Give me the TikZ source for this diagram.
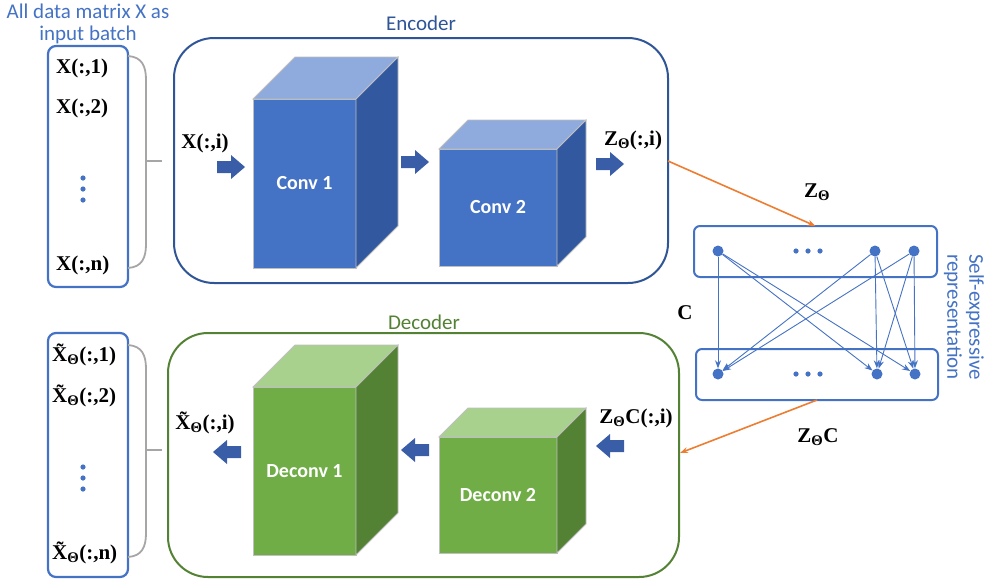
\documentclass[tikz,border=0pt]{standalone}
\usepackage{fontspec}
\setmainfont{Liberation Serif}
\newfontfamily\calibri{Carlito}
\usetikzlibrary{arrows.meta}
\definecolor{mainblue}{HTML}{4472C4}
\definecolor{darkblue}{HTML}{2F5597}
\definecolor{arrowblue}{HTML}{3A5DA8}
\definecolor{topblue}{HTML}{8FAADC}
\definecolor{sideblue}{HTML}{3259A0}
\definecolor{frontgreen}{HTML}{70AD47}
\definecolor{topgreen}{HTML}{A9D18E}
\definecolor{sidegreen}{HTML}{548235}
\definecolor{darkgreen}{HTML}{548235}
\definecolor{bracketgray}{HTML}{A6A6A6}
\definecolor{linkorange}{HTML}{ED7D31}
\definecolor{cubeedge}{HTML}{BFBFBF}

\tikzset{
    sans/.style={font=\calibri\fontsize{21}{22}\selectfont},
    lbl/.style={font=\bfseries\fontsize{21}{22}\selectfont, inner sep=0pt},
    convface/.style={draw=cubeedge, line width=0.8pt, inner sep=0pt, outer sep=0pt, text=white, font=\calibri\bfseries\fontsize{20}{22}\selectfont},
    batchbox/.style={draw=mainblue, line width=2.2pt, rounded corners=8pt, inner sep=0pt, outer sep=0pt},
    sebox/.style={draw=mainblue, line width=2pt, rounded corners=6pt, inner sep=0pt, outer sep=0pt},
    netbox/.style={line width=2pt, rounded corners=40pt, inner sep=0pt, outer sep=0pt},
    unit/.style={circle, fill=mainblue, inner sep=0pt, minimum size=11pt},
    edge/.style={mainblue, line width=0.9pt, -{Stealth[length=8pt,width=6pt]}},
    link/.style={linkorange, line width=1.6pt, -{Stealth[length=8pt,width=6pt]}},
    bracket/.style={bracketgray, line width=1.8pt},
    rblock/.pic={\fill[arrowblue] (-14,-6) -- (0,-6) -- (0,-12) -- (14,0) -- (0,12) -- (0,6) -- (-14,6) -- cycle;},
    lblock/.pic={\fill[arrowblue] (14,-6) -- (0,-6) -- (0,-12) -- (-14,0) -- (0,12) -- (0,6) -- (14,6) -- cycle;}
}

% top and side faces of a cube: front node, depth, top colour, side colour
\newcommand{\cubeback}[4]{%
    \filldraw[draw=cubeedge, line width=0.8pt, fill=#3] (#1.north west) -- ++(#2,-#2) -- ([shift={(#2,-#2)}]#1.north east) -- (#1.north east) -- cycle;
    \filldraw[draw=cubeedge, line width=0.8pt, fill=#4] (#1.north east) -- ++(#2,-#2) -- ([shift={(#2,-#2)}]#1.south east) -- (#1.south east) -- cycle;}

\begin{document}
\begin{tikzpicture}[x=1pt, y=-1pt]
    \useasboundingbox (0,0) rectangle (987,579);

    % input batch
    \node[sans, text=mainblue, align=center] (title) at (88,24) {All data matrix X as\\input batch};
    \node[batchbox, minimum width=80pt, minimum height=241pt] (inbox) at (88,166.5) {};
    \node[lbl, anchor=west] (x1) at (56,68) {X(:,1)};
    \node[lbl, anchor=west] (x2) at (56,108) {X(:,2)};
    \node[lbl, anchor=west] (xn) at (56,265) {X(:,n)};
    \foreach \y in {178,189,200}
        \fill[mainblue] (83,\y) circle (2.6pt);
    \draw[bracket] (128,56) .. controls (142,57) and (146,66) .. (146,80) -- (146,244) .. controls (146,258) and (142,267) .. (128,268);
    \draw[bracket] (146,161) -- (162,161);

    % encoder
    \node[netbox, draw=darkblue, minimum width=494pt, minimum height=245pt] (enc) at (421,160.5) {};
    \node[sans, text=darkblue] (enclabel) at (421,23) {Encoder};
    \node[convface, fill=mainblue, minimum width=103pt, minimum height=169pt] (conv1) at (304.5,183.5) {Conv 1};
    \cubeback{conv1}{42}{topblue}{sideblue}
    \node[convface, fill=mainblue, minimum width=118pt, minimum height=117pt] (conv2) at (498,207.5) {Conv 2};
    \cubeback{conv2}{29}{topblue}{sideblue}
    \node[lbl] (xi) at (205,143) {X(:,i)};
    \node[lbl] (zi) at (633,140) {Z\textsubscript{Θ}(:,i)};
    \pic (ea1) at (231,167) {rblock};
    \pic (ea2) at (415,162) {rblock};
    \pic (ea3) at (610,164) {rblock};

    % self-expressive layer
    \node[sebox, minimum width=243pt, minimum height=51pt] (setop) at (815.5,251.5) {};
    \node[sebox, minimum width=242pt, minimum height=51pt] (sebot) at (817,374.5) {};
    \foreach \n/\x in {1/718,2/875,3/914}
        \node[unit] (t\n) at (\x,251) {};
    \foreach \n/\x in {1/718,2/877,3/915}
        \node[unit] (b\n) at (\x,374) {};
    \foreach \x in {796,808,820} {
        \fill[mainblue] (\x,251) circle (2.6pt);
        \fill[mainblue] (\x,374) circle (2.6pt);
    }
    \foreach \i in {1,2,3}
        \foreach \j in {1,2,3}
            \draw[edge] (t\i) -- (b\j);
    \node[lbl] (zlabel) at (817,192) {Z\textsubscript{Θ}};
    \node[lbl] (clabel) at (685,313) {C};
    \node[lbl] (zclabel) at (818,437) {Z\textsubscript{Θ}C};
    \node[sans, text=mainblue, align=center, rotate=-90] (selabel) at (964,317) {Self-expressive\\representation};
    \coordinate (encout) at (668,161);
    \coordinate (decin) at (680,453);
    \draw[link] (encout) -- (setop.north);
    \draw[link] (sebot.south) -- (decin);

    % decoder
    \node[netbox, draw=darkgreen, minimum width=511pt, minimum height=244pt] (dec) at (423.5,455) {};
    \node[sans, text=darkgreen] (declabel) at (424,322) {Decoder};
    \node[convface, fill=frontgreen, minimum width=103pt, minimum height=168pt] (deconv1) at (304.5,471) {Deconv 1};
    \cubeback{deconv1}{42}{topgreen}{sidegreen}
    \node[convface, fill=frontgreen, minimum width=118pt, minimum height=116pt] (deconv2) at (498,495) {Deconv 2};
    \cubeback{deconv2}{29}{topgreen}{sidegreen}
    \node[lbl] (zci) at (636,418) {Z\textsubscript{Θ}C(:,i)};
    \node[lbl] (xti) at (205,423) {\~X\textsubscript{Θ}(:,i)};
    \pic (da1) at (610,446) {lblock};
    \pic (da2) at (415,450) {lblock};
    \pic (da3) at (227,452) {lblock};

    % output batch
    \node[batchbox, minimum width=80pt, minimum height=244pt] (outbox) at (88,455) {};
    \node[lbl, anchor=west] (y1) at (52,355) {\~X\textsubscript{Θ}(:,1)};
    \node[lbl, anchor=west] (y2) at (52,396) {\~X\textsubscript{Θ}(:,2)};
    \node[lbl, anchor=west] (yn) at (52,553) {\~X\textsubscript{Θ}(:,n)};
    \foreach \y in {467,478,489}
        \fill[mainblue] (83,\y) circle (2.6pt);
    \draw[bracket] (128,345) .. controls (142,346) and (146,355) .. (146,369) -- (146,533) .. controls (146,547) and (142,556) .. (128,557);
    \draw[bracket] (146,450) -- (162,450);
\end{tikzpicture}
\end{document}
